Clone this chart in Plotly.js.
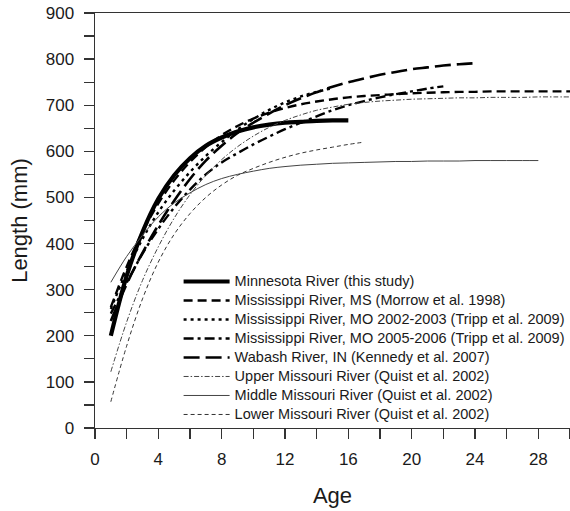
<!DOCTYPE html>
<html>
<head>
<meta charset="utf-8">
<script src="https://cdn.plot.ly/plotly-3.0.1.min.js"></script>
<style>
html, body { margin: 0; padding: 0; background: #ffffff; }
#chart { width: 570px; height: 511px; }
</style>
</head>
<body>
<div id="chart"></div>
<script>
// ---- Data ----
const seriesNames = [
  "Minnesota River (this study)",
  "Mississippi River, MS (Morrow et al. 1998)",
  "Mississippi River, MO 2002-2003 (Tripp et al. 2009)",
  "Mississippi River, MO 2005-2006 (Tripp et al. 2009)",
  "Wabash River, IN (Kennedy et al. 2007)",
  "Upper Missouri River (Quist et al. 2002)",
  "Middle Missouri River (Quist et al. 2002)",
  "Lower Missouri River (Quist et al. 2002)"
];

const ageMinnesota = [1,2,3,4,5,6,7,8,9,10,11,12,13,14,15,16];
const lenMinnesota = [200,330,425,497,548,585,612,630,643,652,658,662,664,666,667,667];

const ageMississippiMS = [1,2,3,4,5,6,7,8,9,10,11,12,13,14,15,16,17,18,19,20,21,22,23,24,25,26,27,28,29,30];
const lenMississippiMS = [262,350,425,487,537,577,609,635,655,671,684,694,702,708,713,717,720,722,724,726,727,728,729,729,730,730,730,730,730,730];

const ageMO0203 = [1,2,3,4,5,6,7,8,9,10,11,12,13,14,15];
const lenMO0203 = [258,340,410,468,515,555,590,620,647,670,690,706,719,729,737];

const ageMO0506 = [1,2,3,4,5,6,7,8,9,10,11,12,13,14,15,16,17,18,19,20,21,22];
const lenMO0506 = [248,315,378,432,478,517,550,576,596,615,632,648,662,676,689,700,709,717,724,730,736,741];

const ageWabash = [1,2,3,4,5,6,7,8,9,10,11,12,13,14,15,16,17,18,19,20,21,22,23,24];
const lenWabash = [232,312,380,440,493,540,580,612,640,662,682,700,715,728,740,750,758,766,772,778,782,786,789,791];

const ageUpperMO = [1,2,3,4,5,6,7,8,9,10,11,12,13,14,15,16,17,18,19,20,21,22,23,24,25,26,27,28,29,30];
const lenUpperMO = [122,230,320,393,455,506,548,582,610,633,652,667,679,689,696,702,706,709,711,713,714,715,716,716,717,717,717,718,718,718];

const ageMiddleMO = [1,2,3,4,5,6,7,8,9,10,11,12,13,14,15,16,17,18,19,20,21,22,23,24,25,26,27,28];
const lenMiddleMO = [316,372,418,458,488,510,528,541,550,557,563,567,570,572,574,575,576,577,578,578,579,579,579,580,580,580,580,580];

const ageLowerMO = [1,2,3,4,5,6,7,8,9,10,11,12,13,14,15,16,17];
const lenLowerMO = [57,178,280,360,420,465,500,527,548,563,576,587,596,603,609,615,620];

const xTickVals = [0,4,8,12,16,20,24,28];
const yTickVals = [0,100,200,300,400,500,600,700,800,900];

// ---- Styles ----
const styles = [
  {color:"#000000", width:4.2, dash:"solid"},
  {color:"#000000", width:2.4, dash:"9px,5px"},
  {color:"#000000", width:2.4, dash:"3px,4px"},
  {color:"#000000", width:2.4, dash:"10px,4px,3px,4px"},
  {color:"#000000", width:2.6, dash:"16px,6px"},
  {color:"#444444", width:1, dash:"5px,2px,1.5px,2px"},
  {color:"#444444", width:1, dash:"solid"},
  {color:"#333333", width:1, dash:"4px,3px"}
];

const xs = [ageMinnesota, ageMississippiMS, ageMO0203, ageMO0506, ageWabash, ageUpperMO, ageMiddleMO, ageLowerMO];
const ys = [lenMinnesota, lenMississippiMS, lenMO0203, lenMO0506, lenWabash, lenUpperMO, lenMiddleMO, lenLowerMO];

const traces = seriesNames.map((name, i) => ({
  type: "scatter",
  mode: "lines",
  name: '<span style="font-size:14.5px">' + name + '</span>',
  x: xs[i],
  y: ys[i],
  line: {color: styles[i].color, width: styles[i].width, dash: styles[i].dash, shape: "spline", smoothing: 1},
  hoverinfo: "skip"
}));

const fontFam = "Liberation Sans, Arial, Helvetica, sans-serif";

const layout = {
  width: 570,
  height: 511,
  margin: {l: 95, r: 0, t: 13, b: 83, pad: 0},
  paper_bgcolor: "#ffffff",
  plot_bgcolor: "#ffffff",
  font: {family: fontFam, color: "#1a1a1a", size: 16},
  showlegend: true,
  legend: {
    x: 0.176, y: 0.388, xanchor: "left", yanchor: "top",
    bgcolor: "rgba(0,0,0,0)", borderwidth: 0,
    font: {family: fontFam, size: 10.8, color: "#1a1a1a"},
    itemwidth: 46,
    tracegroupgap: 0
  },
  xaxis: {
    range: [0, 30],
    tickmode: "array",
    tickvals: xTickVals,
    ticktext: xTickVals.map(String),
    ticks: "outside", ticklen: 10, tickwidth: 1.3, tickcolor: "#333333",
    minor: {dtick: 2, tick0: 0, ticks: "outside", ticklen: 10, tickwidth: 1.3, tickcolor: "#333333", showgrid: false},
    showline: true, linecolor: "#333333", linewidth: 1.4, mirror: true,
    showgrid: false, zeroline: false,
    ticklabelstandoff: 5,
    tickfont: {family: fontFam, size: 17, color: "#1a1a1a"},
    title: {text: "Age", font: {family: fontFam, size: 22, color: "#1a1a1a"}, standoff: 20}
  },
  yaxis: {
    range: [0, 900],
    tickmode: "array",
    tickvals: yTickVals,
    ticktext: yTickVals.map(String),
    ticks: "outside", ticklen: 10, tickwidth: 1.3, tickcolor: "#333333",
    minor: {dtick: 50, tick0: 0, ticks: "outside", ticklen: 10, tickwidth: 1.3, tickcolor: "#333333", showgrid: false},
    showline: true, linecolor: "#333333", linewidth: 1.4, mirror: true,
    showgrid: false, zeroline: false,
    ticklabelstandoff: 6,
    tickfont: {family: fontFam, size: 17, color: "#1a1a1a"},
    title: {text: "Length (mm)", font: {family: fontFam, size: 22, color: "#1a1a1a"}, standoff: 12}
  }
};

Plotly.newPlot("chart", traces, layout, {staticPlot: true, displayModeBar: false});
</script>
</body>
</html>
